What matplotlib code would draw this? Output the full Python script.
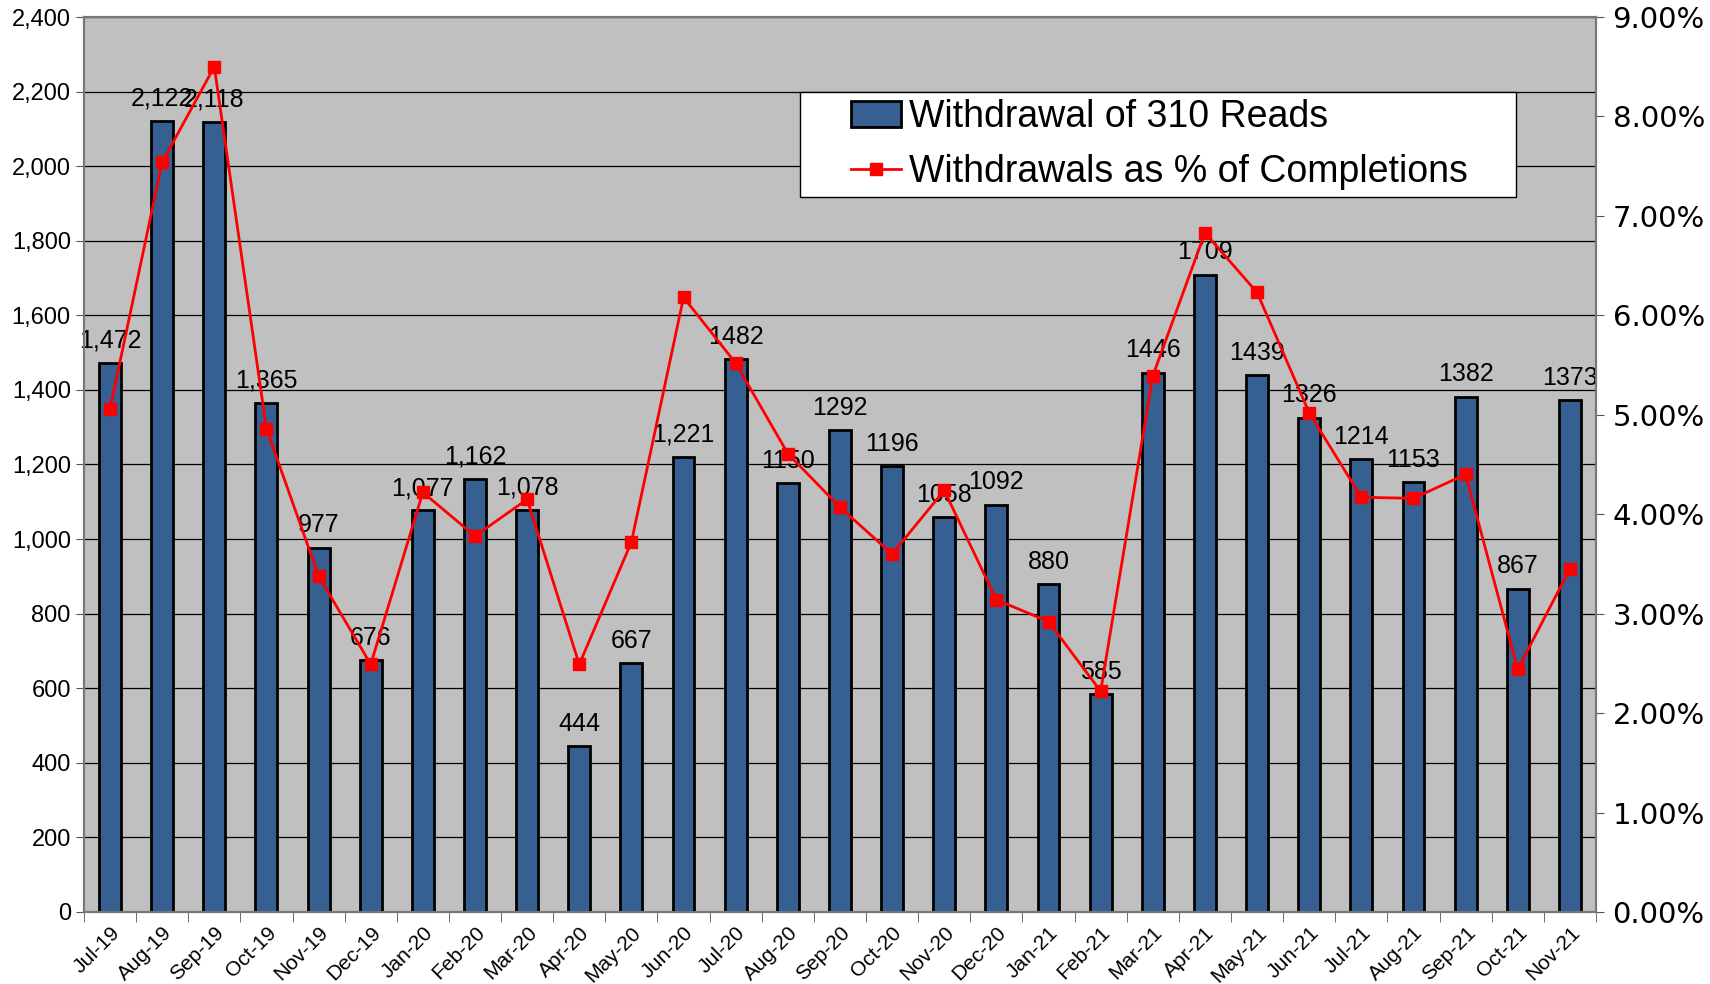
import matplotlib.pyplot as plt
import numpy as np
from matplotlib.patches import Patch, Rectangle
from matplotlib.lines import Line2D

months = ['Jul-19', 'Aug-19', 'Sep-19', 'Oct-19', 'Nov-19', 'Dec-19', 'Jan-20', 'Feb-20',
          'Mar-20', 'Apr-20', 'May-20', 'Jun-20', 'Jul-20', 'Aug-20', 'Sep-20', 'Oct-20',
          'Nov-20', 'Dec-20', 'Jan-21', 'Feb-21', 'Mar-21', 'Apr-21', 'May-21', 'Jun-21',
          'Jul-21', 'Aug-21', 'Sep-21', 'Oct-21', 'Nov-21']
withdrawals = [1472, 2122, 2118, 1365, 977, 676, 1077, 1162, 1078, 444, 667, 1221, 1482,
               1150, 1292, 1196, 1058, 1092, 880, 585, 1446, 1709, 1439, 1326, 1214, 1153,
               1382, 867, 1373]
bar_labels = ['1,472', '2,122', '2,118', '1,365', '977', '676', '1,077', '1,162', '1,078',
              '444', '667', '1,221', '1482', '1150', '1292', '1196', '1058', '1092', '880',
              '585', '1446', '1709', '1439', '1326', '1214', '1153', '1382', '867', '1373']
pct = [5.06, 7.54, 8.50, 4.86, 3.38, 2.49, 4.22, 3.78, 4.15, 2.49, 3.72, 6.18, 5.52,
       4.61, 4.07, 3.60, 4.24, 3.14, 2.92, 2.22, 5.39, 6.83, 6.23, 5.02, 4.17, 4.16,
       4.40, 2.44, 3.45]

plt.rcParams['font.family'] = ['Liberation Sans', 'DejaVu Sans']

fig = plt.figure(figsize=(17.1, 9.84), dpi=100)
ax = fig.add_axes([0.0491, 0.0732, 0.8842, 0.9095])
ax.set_facecolor('#C0C0C0')

x = np.arange(len(months))
ax.bar(x, withdrawals, width=0.42, color='#365F92', edgecolor='black', linewidth=2, zorder=3)
for xi, v, lab in zip(x, withdrawals, bar_labels):
    ax.annotate(lab, (xi, v), xytext=(0, 11), textcoords='offset points',
                ha='center', va='baseline', fontsize=18, zorder=4)

ax.set_xlim(-0.5, len(months) - 0.5)
ax.set_ylim(0, 2400)
ax.set_yticks(np.arange(0, 2401, 200))
ax.set_yticklabels([f'{v:,}' for v in range(0, 2401, 200)], fontsize=17)
ax.yaxis.grid(True, color='black', linewidth=0.9, zorder=0)
ax.set_axisbelow(True)
ax.set_xticks(x)
ax.set_xticklabels(months, rotation=45, ha='right', va='top', rotation_mode='anchor',
                   fontsize=15)
ax.tick_params(axis='x', length=0, pad=8)
ax.set_xticks(np.arange(-0.5, len(months), 1), minor=True)
ax.tick_params(axis='x', which='minor', length=7, color='#555555', direction='out')
ax.tick_params(axis='y', length=6, color='#555555', direction='out')
for s in ax.spines.values():
    s.set_color('#777777')
    s.set_linewidth(1.5)

ax2 = ax.twinx()
ax2.plot(x, np.array(pct) / 100, color='#FF0000', linewidth=2, marker='s',
         markersize=9, zorder=5)
ax2.set_ylim(0, 0.09)
ax2.set_yticks(np.arange(0, 0.0901, 0.01))
ax2.set_yticklabels([f'{v:.2f}%' for v in np.arange(0, 9.01, 1)], fontsize=21,
                    family='DejaVu Sans')
ax2.tick_params(axis='y', length=6, color='#555555', direction='out', pad=6)
for s in ax2.spines.values():
    s.set_color('#777777')
    s.set_linewidth(1.5)

# legend box drawn by hand so the padding matches
ax2.add_patch(Rectangle((0.4735, 0.799), 0.4735, 0.117, transform=ax2.transAxes,
                        facecolor='white', edgecolor='black', linewidth=1, zorder=6))
handles = [Patch(facecolor='#365F92', edgecolor='black', linewidth=2),
           Line2D([0], [0], color='#FF0000', linewidth=2, marker='s', markersize=9)]
leg = ax2.legend(handles, ['Withdrawal of 310 Reads', 'Withdrawals as % of Completions'],
                 loc='center left', bbox_to_anchor=(0.507, 0.8575), fontsize=27,
                 frameon=False, handlelength=1.35, handletextpad=0.2, borderpad=0,
                 labelspacing=0.5, borderaxespad=0)
leg.set_zorder(7)

fig.savefig('out.png', dpi=100)
